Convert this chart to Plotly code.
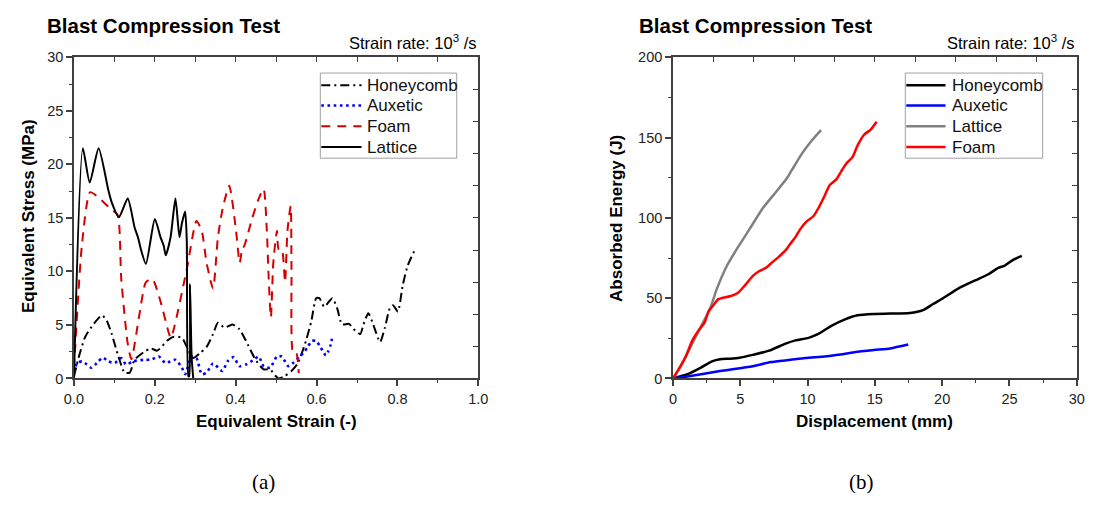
import plotly.graph_objects as go

# ---- (a) stress vs strain ----
hc_strain = [0.0, 0.012, 0.028, 0.049, 0.069, 0.081, 0.093, 0.11, 0.125, 0.138, 0.15, 0.174, 0.19, 0.206,
             0.231, 0.247, 0.267, 0.279, 0.295, 0.311, 0.328, 0.344, 0.356, 0.372, 0.392, 0.409, 0.425,
             0.449, 0.469, 0.485, 0.498, 0.506, 0.522, 0.538, 0.554, 0.574, 0.587, 0.599, 0.607, 0.619,
             0.639, 0.651, 0.663, 0.68, 0.692, 0.708, 0.716, 0.728, 0.74, 0.757, 0.769, 0.781, 0.789,
             0.801, 0.813, 0.825, 0.844]
hc_stress = [0.2, 2.0, 3.9, 5.1, 5.9, 5.4, 4.2, 2.05, 0.55, 0.55, 1.75, 2.5, 2.8, 2.6,
             3.55, 3.9, 3.8, 2.95, 1.9, 2.35, 2.95, 4.15, 5.2, 4.75, 5.05, 4.6, 3.55,
             1.75, 0.85, 0.85, 0.25, 0.0, 0.25, 0.7, 1.45, 3.55, 5.35, 7.5, 7.5, 6.7,
             7.5, 6.55, 5.05, 5.1, 4.6, 4.15, 5.05, 6.1, 5.05, 3.4, 4.75, 6.55, 6.85,
             6.25, 8.7, 10.5, 12.1]

aux_strain = [0.0, 0.008, 0.02, 0.032, 0.043, 0.057, 0.071, 0.085, 0.101, 0.117, 0.129, 0.146, 0.174,
              0.19, 0.21, 0.226, 0.251, 0.267, 0.275, 0.291, 0.303, 0.316, 0.328, 0.344, 0.367, 0.38,
              0.395, 0.409, 0.425, 0.445, 0.457, 0.469, 0.485, 0.502, 0.514, 0.53, 0.542, 0.558,
              0.57, 0.578, 0.588, 0.6, 0.608, 0.615, 0.623, 0.629, 0.635, 0.638]
aux_stress = [0.55, 1.45, 1.6, 1.3, 1.0, 1.45, 1.95, 1.6, 1.45, 1.9, 1.3, 1.6, 1.75,
              1.75, 2.05, 1.45, 1.75, 1.0, 0.4, 2.05, 1.9, 0.4, 0.55, 1.4, 0.7, 1.6,
              2.0, 1.15, 1.3, 1.75, 2.05, 1.15, 1.0, 2.05, 2.05, 1.15, 1.45, 2.05,
              2.5, 2.95, 3.5, 3.5, 3.0, 2.6, 2.15, 2.55, 3.15, 3.7]

foam_strain = [0.0, 0.02, 0.04, 0.061, 0.093, 0.108, 0.117, 0.133, 0.142, 0.162, 0.178, 0.194, 0.214,
               0.235, 0.24, 0.279, 0.303, 0.316, 0.328, 0.344, 0.356, 0.368, 0.384, 0.4, 0.41, 0.417,
               0.42, 0.441, 0.457, 0.469, 0.477, 0.481, 0.487, 0.493, 0.502, 0.506, 0.514, 0.522,
               0.528, 0.536, 0.538, 0.542, 0.55, 0.556]
foam_stress = [0.9, 12.6, 17.4, 16.9, 15.75, 15.3, 9.3, 3.25, 1.8, 6.0, 9.0, 9.3, 7.2,
               4.2, 3.8, 10.2, 14.7, 13.8, 10.8, 8.4, 13.2, 15.9, 18.0, 14.1, 10.8, 12.3,
               12.3, 15.0, 16.8, 17.7, 13.8, 9.9, 5.7, 10.8, 13.8, 12.1, 12.1, 9.0,
               13.8, 16.1, 10.2, 2.35, 2.35, 0.5]

lat_strain = [0.0, 0.022, 0.039, 0.061, 0.085, 0.093, 0.111, 0.133, 0.15, 0.159, 0.166, 0.178, 0.2,
              0.214, 0.222, 0.227, 0.239, 0.251, 0.261, 0.267, 0.275, 0.279, 0.283, 0.285, 0.287,
              0.291, 0.295]
lat_stress = [0.0, 21.5, 18.3, 21.5, 17.6, 16.5, 15.06, 16.8, 14.1, 13.1, 12.0, 10.7, 14.9,
              13.2, 12.4, 11.5, 13.2, 16.8, 13.2, 14.5, 15.6, 12.9, 0.2, 0.2, 8.8,
              2.0, 0.0]

# ---- (b) absorbed energy vs displacement ----
hc_disp = [0.0, 1.07, 2.04, 2.9, 3.5, 4.23, 4.96, 5.93, 7.15, 8.37, 9.1, 10.07, 10.8, 11.77, 12.74,
           13.71, 14.93, 16.15, 17.6, 18.58, 19.3, 20.03, 21.25, 22.46, 23.44, 24.17, 24.65, 25.27, 25.92]
hc_energy = [0.0, 2.6, 6.6, 10.7, 12.0, 12.3, 12.9, 14.7, 17.3, 21.7, 23.7, 25.3, 27.7, 32.8, 36.7,
             39.4, 40.2, 40.4, 40.8, 42.6, 46.2, 49.8, 56.3, 61.1, 64.9, 68.9, 70.3, 73.9, 76.3]

aux_disp = [0.0, 1.07, 3.5, 5.93, 7.27, 8.73, 9.82, 11.28, 12.25, 13.47, 14.93, 16.15, 17.48]
aux_energy = [0.0, 1.2, 4.6, 7.6, 10.2, 11.6, 12.7, 13.7, 14.7, 16.3, 17.7, 18.7, 21.1]

lat_disp = [0.0, 0.58, 1.31, 2.04, 2.77, 3.26, 3.99, 4.84, 5.69, 6.67, 7.64, 8.49, 8.85, 9.58, 10.3, 11.0]
lat_energy = [0.0, 7.6, 19.7, 31.7, 43.8, 55.8, 69.9, 81.9, 93.0, 106.0, 116.0, 125.0, 130.0, 140.0, 148.0, 154.6]

foam_disp = [0.0, 0.34, 0.95, 1.44, 1.8, 2.34, 2.65, 3.02, 3.38, 4.23, 4.84, 5.33, 5.94, 6.42, 6.91,
             7.4, 7.88, 8.37, 8.73, 9.1, 9.46, 9.95, 10.43, 10.8, 11.28, 11.65, 12.14, 12.5, 12.87,
             13.35, 13.71, 14.2, 14.69, 15.13]
foam_energy = [0.0, 4.6, 13.7, 23.7, 28.7, 34.8, 41.8, 45.8, 49.4, 51.2, 53.4, 57.8, 63.9, 66.9, 68.9,
               72.5, 75.9, 79.9, 84.0, 88.0, 93.0, 98.0, 101.0, 106.0, 114.0, 120.5, 124.0, 129.0, 133.7,
               138.0, 145.0, 151.8, 155.0, 159.9]

FONT = "Arial, Liberation Sans, sans-serif"
AX = "#404040"

# page body keeps its default 8px margin, so the figure is sized to fit inside it
OX, OY = 8, 8
W, H = 1098 - 2 * OX, 506 - 2 * OY


def px(x):
    return (x - OX) / W


def py(y):
    return 1 - (y - OY) / H


# series: (name, x, y, line style) per panel, in legend order
series_a = [
    ("Honeycomb", hc_strain, hc_stress, dict(color="black", width=2, dash="9px,4px,2px,4px")),
    ("Auxetic", aux_strain, aux_stress, dict(color="#0000ff", width=2.6, dash="2.6px,3.6px")),
    ("Foam", foam_strain, foam_stress, dict(color="#d40000", width=2, dash="9px,7px")),
    ("Lattice", lat_strain, lat_stress, dict(color="black", width=2)),
]
series_b = [
    ("Honeycomb", hc_disp, hc_energy, dict(color="black", width=2.5)),
    ("Auxetic", aux_disp, aux_energy, dict(color="#0000ff", width=2.5)),
    ("Lattice", lat_disp, lat_energy, dict(color="#808080", width=2.5)),
    ("Foam", foam_disp, foam_energy, dict(color="#ff0000", width=2.5)),
]

fig = go.Figure()
for name, x, y, ln in series_a:
    fig.add_trace(go.Scatter(x=x, y=y, name=name, mode="lines", showlegend=False,
                             line=dict(shape="spline", smoothing=0.6, **ln)))
for name, x, y, ln in series_b:
    fig.add_trace(go.Scatter(x=x, y=y, name=name, mode="lines", xaxis="x2", yaxis="y2", showlegend=False,
                             line=dict(shape="spline", smoothing=0.6, **ln)))

# empty traces so the inner-tick top/right axes get drawn
for xa, ya in [("x3", "y"), ("x", "y3"), ("x4", "y2"), ("x2", "y4")]:
    fig.add_trace(go.Scatter(x=[], y=[], xaxis=xa, yaxis=ya, showlegend=False, hoverinfo="skip"))

xd1 = [px(65), px(477)]
xd2 = [px(675.3), px(1086.7)]
yd = [py(382.7), py(50.7)]


def main_axis(rng, dtick, mdtick, domain, anchor, fmt=None):
    d = dict(range=rng, dtick=dtick, tick0=0, domain=domain, anchor=anchor,
             showline=True, mirror=True, linecolor=AX, linewidth=1.5,
             ticks="outside", ticklen=6, tickwidth=1.5, tickcolor=AX,
             minor=dict(dtick=mdtick, tick0=0, ticks="outside", ticklen=3, tickcolor=AX, tickwidth=1.2),
             showgrid=False, zeroline=False,
             tickfont=dict(family=FONT, size=14.5, color="#222"))
    if fmt:
        d["tickformat"] = fmt
    return d


def inner_axis(rng, dtick, overlay, side, anchor):
    return dict(range=rng, dtick=dtick, tick0=0, overlaying=overlay, side=side, anchor=anchor,
                ticks="inside", ticklen=5, tickwidth=1.2, tickcolor=AX,
                showticklabels=False, showgrid=False, zeroline=False, showline=False)


fig.update_layout(
    width=W, height=H,
    margin=dict(l=0, r=0, t=0, b=0),
    paper_bgcolor="white", plot_bgcolor="white",
    font=dict(family=FONT, color="#111"),
    showlegend=False,
    xaxis=main_axis([0, 1], 0.2, 0.1, xd1, "y", ".1f"),
    yaxis=main_axis([0, 30], 5, 2.5, yd, "x"),
    xaxis2=main_axis([0, 30], 5, 2.5, xd2, "y2"),
    yaxis2=main_axis([0, 200], 50, 25, yd, "x2"),
    xaxis3=inner_axis([0, 1], 0.1, "x", "top", "y"),
    yaxis3=inner_axis([0, 30], 3, "y", "right", "x"),
    xaxis4=inner_axis([0, 30], 3, "x2", "top", "y2"),
    yaxis4=inner_axis([0, 200], 20, "y2", "right", "x2"),
)

ann = []
shapes = []

# legend boxes drawn by hand so the entry spacing matches
legend_rows = [79.5, 100.5, 122, 143.5]
for series, (bx0, bx1), (lx0, lx1), tx in [(series_a, (316, 455), (317, 358), 362),
                                          (series_b, (912, 1052), (913, 953), 958)]:
    shapes.append(dict(type="rect", xref="paper", yref="paper", x0=px(bx0), x1=px(bx1),
                       y0=py(155), y1=py(67), line=dict(color="#a0a0a0", width=1), fillcolor="white"))
    for (name, _, _, ln), ry in zip(series, legend_rows):
        shapes.append(dict(type="line", xref="paper", yref="paper", x0=px(lx0), x1=px(lx1),
                           y0=py(ry), y1=py(ry), line=ln))
        ann.append(dict(text=name, x=px(tx), y=py(ry), xref="paper", yref="paper",
                        xanchor="left", yanchor="middle", showarrow=False,
                        font=dict(family=FONT, size=17, color="#111")))

for xt, xs in [(36, 477), (639, 1086)]:
    ann.append(dict(text="<b>Blast Compression Test</b>", x=px(xt), y=py(18), xref="paper", yref="paper",
                    xanchor="left", yanchor="middle", showarrow=False,
                    font=dict(family=FONT, size=20.5, color="black")))
    ann.append(dict(text="Strain rate: 10<sup>3</sup> /s", x=px(xs), y=py(35), xref="paper", yref="paper",
                    xanchor="right", yanchor="middle", showarrow=False,
                    font=dict(family=FONT, size=16.5, color="black")))

for txt, x, y, ang in [("<b>Equivalent Stress (MPa)</b>", 18, 215, -90),
                       ("<b>Equivalent Strain (-)</b>", 271, 427, 0),
                       ("<b>Absorbed Energy (J)</b>", 617, 217, -90),
                       ("<b>Displacement (mm)</b>", 881, 427, 0)]:
    ann.append(dict(text=txt, x=px(x), y=py(y), xref="paper", yref="paper", textangle=ang,
                    xanchor="center", yanchor="middle", showarrow=False,
                    font=dict(family=FONT, size=17, color="black")))

for txt, x in [("(a)", 258), ("(b)", 867)]:
    ann.append(dict(text=txt, x=px(x), y=py(490), xref="paper", yref="paper",
                    xanchor="center", yanchor="middle", showarrow=False,
                    font=dict(family="Liberation Serif, DejaVu Serif, serif", size=21, color="black")))

fig.update_layout(annotations=ann, shapes=shapes)
fig.write_html("out.html")
